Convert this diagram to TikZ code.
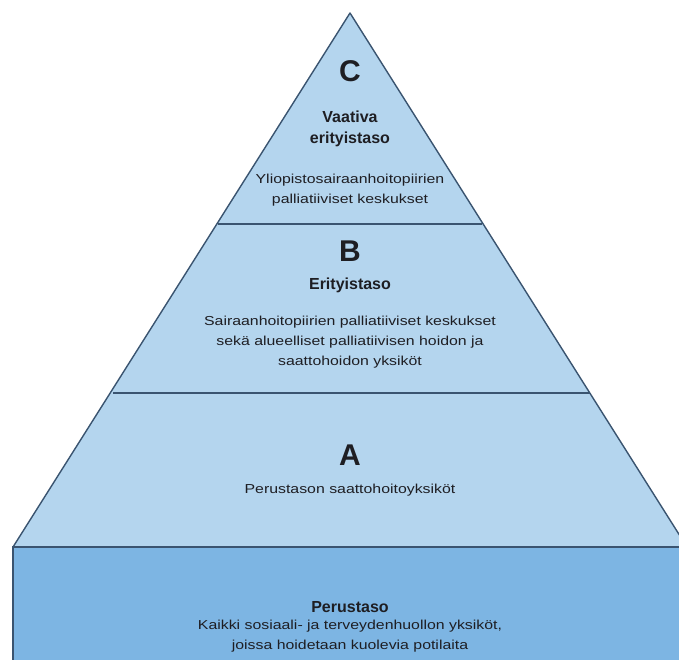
\documentclass[tikz,border=0pt]{standalone}
\usepackage{fontspec}
\setmainfont{Liberation Sans}
\newfontfamily\widefont{Liberation Sans}[FakeStretch=1.22]
\usetikzlibrary{positioning}
\definecolor{tiercolor}{RGB}{180,213,238}
\definecolor{basecolor}{RGB}{125,181,227}
\definecolor{edgecolor}{RGB}{58,84,112}
\definecolor{textcolor}{RGB}{30,30,35}

\begin{document}
\begin{tikzpicture}[
    x=1pt, y=-1pt,
    letter/.style={font=\fontsize{30}{32}\selectfont\bfseries, text=textcolor, inner sep=0pt},
    title/.style={font=\fontsize{16}{21}\selectfont\bfseries, text=textcolor, align=center, inner sep=0pt},
    body/.style={font=\widefont\fontsize{13}{20}\selectfont, text=textcolor, align=center, inner sep=0pt},
    divider/.style={draw=edgecolor, line width=1.4pt}
]
    \useasboundingbox (0,0) rectangle (679,659);
    \clip (0,0) rectangle (679,659);

    % Pyramid
    \coordinate (top) at (350,13);
    \coordinate (left) at (13,547);
    \coordinate (right) at (687,547);
    \fill[tiercolor] (top) -- (left) -- (right) -- cycle;
    \draw[divider] (218,224) -- (482,224);
    \draw[divider] (113,393) -- (590,393);
    \draw[edgecolor, line width=1.4pt, line join=round] (left) -- (top) -- (right);

    % Base band
    \fill[basecolor] (13,547) rectangle (690,670);
    \draw[edgecolor, line width=1.4pt] (13,670) -- (13,547) -- (690,547);

    % Level C
    \node[letter] (c) at (350,71) {C};
    \node[title] (ctitle) at (350,129) {Vaativa\\erityistaso};
    \node[body] (ctext) at (350,190) {Yliopistosairaanhoitopiirien\\palliatiiviset keskukset};

    % Level B
    \node[letter] (b) at (350,251) {B};
    \node[title] (btitle) at (350,285) {Erityistaso};
    \node[body] (btext) at (350,342) {Sairaanhoitopiirien palliatiiviset keskukset\\sekä alueelliset palliatiivisen hoidon ja\\saattohoidon yksiköt};

    % Level A
    \node[letter] (a) at (350,455) {A};
    \node[body] (atext) at (350,490) {Perustason saattohoitoyksiköt};

    % Base level
    \node[title] (base) at (350,607) {Perustaso};
    \node[body] (basetext) at (350,636) {Kaikki sosiaali- ja terveydenhuollon yksiköt,\\joissa hoidetaan kuolevia potilaita};
\end{tikzpicture}
\end{document}
